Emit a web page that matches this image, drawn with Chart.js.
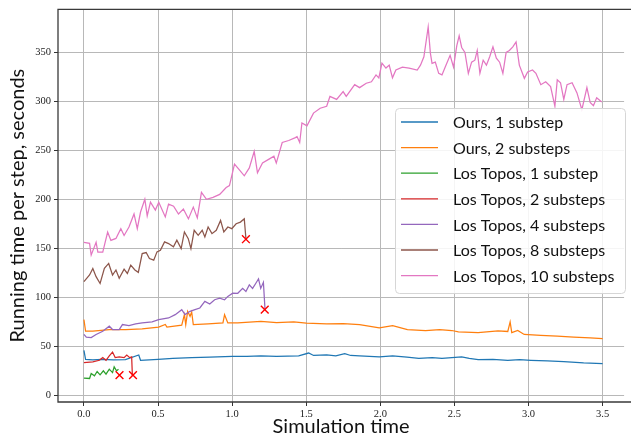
<!DOCTYPE html>
<html>
<head>
<meta charset="utf-8">
<script src="https://cdn.jsdelivr.net/npm/chart.js@4.4.1/dist/chart.umd.min.js"></script>
<style>
  html, body { margin: 0; padding: 0; background: #fff; overflow: hidden; }
</style>
</head>
<body>
<canvas id="chart" width="631" height="438"></canvas>
<script>
// series names and colours (matplotlib tab10)
const seriesNames = ['Ours, 1 substep', 'Ours, 2 substeps', 'Los Topos, 1 substep', 'Los Topos, 2 substeps',
                     'Los Topos, 4 substeps', 'Los Topos, 8 substeps', 'Los Topos, 10 substeps'];
const seriesColors = ['#1f77b4', '#ff7f0e', '#2ca02c', '#d62728', '#9467bd', '#8c564b', '#e377c2'];

const xTicks = [0, 0.5, 1, 1.5, 2, 2.5, 3, 3.5];
const yTicks = [0, 50, 100, 150, 200, 250, 300, 350];

// Ours, 1 substep
const blueT = [0, 0.011, 0.06, 0.12, 0.2, 0.28, 0.37, 0.382, 0.5, 0.6, 0.727, 0.85, 1.0, 1.1, 1.194, 1.3, 1.449, 1.516, 1.55, 1.638,
               1.7, 1.76, 1.8, 1.86, 1.993, 2.083, 2.18, 2.26, 2.35, 2.416, 2.549, 2.6, 2.66, 2.76, 2.86, 2.94, 3.016, 3.127, 3.238, 3.372, 3.5];
const blueY = [45.7, 36.6, 36, 36.5, 36, 36.2, 41, 35.6, 36.6, 37.5, 38.3, 38.8, 39.7, 39.5, 40, 39.6, 40, 43, 40.5, 41,
               40, 42.3, 40.5, 40, 39, 40, 38.8, 37.6, 38.3, 37.6, 39, 37.5, 36.3, 36.6, 35.6, 36.2, 35.6, 35, 34.3, 33, 32.3];

// Ours, 2 substeps
const orangeT = [0, 0.011, 0.06, 0.171, 0.282, 0.393, 0.504, 0.549, 0.56, 0.66, 0.678, 0.687, 0.7, 0.716, 0.727, 0.738, 0.838, 0.938, 0.949, 0.971,
                 1.038, 1.194, 1.3, 1.416, 1.5, 1.638, 1.75, 1.86, 1.993, 2.083, 2.183, 2.305, 2.4, 2.483, 2.527, 2.66, 2.794, 2.86, 2.876, 2.887,
                 2.927, 2.971, 3.083, 3.194, 3.305, 3.416, 3.5];
const orangeY = [77.1, 65.3, 65.3, 67, 67, 67.7, 69.4, 72.1, 69.4, 71.4, 82.2, 72, 85.6, 80.5, 84.9, 72, 72.8, 73.8, 82.2, 73.8,
                 73.8, 75.4, 74, 74.8, 73.5, 72.7, 73, 72.1, 68.7, 71, 67, 66, 67, 66, 64.6, 63.9, 65.6, 65, 74.8, 63.9,
                 66, 62, 61, 60.3, 59.3, 58.6, 57.6];

// Los Topos, 1 substep
const greenT = [0, 0.038, 0.049, 0.071, 0.089, 0.109, 0.131, 0.149, 0.171, 0.193, 0.204, 0.22, 0.233];
const greenY = [17.4, 17, 22, 19.7, 24.1, 20.7, 24.8, 21.4, 26.5, 23, 28.9, 24.8, 26.5];

// Los Topos, 2 substeps
const redT = [0, 0.06, 0.104, 0.127, 0.149, 0.171, 0.193, 0.211, 0.238, 0.271, 0.289, 0.309, 0.322, 0.327];
const redY = [33.2, 33.9, 35.6, 38.3, 35.6, 40, 44, 38.3, 39, 38.3, 41, 38.3, 39, 19.7];

// Los Topos, 4 substeps
const purpleT = [0, 0.016, 0.049, 0.082, 0.127, 0.171, 0.193, 0.238, 0.26, 0.304, 0.349, 0.393, 0.46, 0.504, 0.571, 0.616, 0.66, 0.682, 0.716, 0.749,
                 0.782, 0.816, 0.849, 0.882, 0.916, 0.949, 0.971, 1.004, 1.038, 1.071, 1.093, 1.116, 1.138, 1.16, 1.178, 1.193, 1.211, 1.222];
const purpleY = [62, 59.2, 58.8, 62, 65.3, 70.4, 67, 67, 72.1, 71, 72.8, 73.8, 74.8, 77.1, 78.8, 82.2, 87.3, 82.2, 85.6, 87.3,
                 89, 95.7, 93, 97.4, 99, 97.4, 100.8, 104.1, 104, 109, 105.8, 112.6, 109, 114.3, 118.7, 109, 115.2, 87.3];

// Los Topos, 8 substeps
const brownT = [0, 0.038, 0.06, 0.082, 0.109, 0.138, 0.167, 0.193, 0.216, 0.238, 0.271, 0.293, 0.316, 0.344, 0.367, 0.393, 0.42, 0.442, 0.471, 0.493,
                0.516, 0.544, 0.571, 0.604, 0.627, 0.656, 0.678, 0.704, 0.722, 0.744, 0.771, 0.798, 0.816, 0.838, 0.864, 0.893, 0.922, 0.944, 0.971, 0.998,
                1.027, 1.056, 1.082, 1.093];
const brownY = [116, 122.7, 129.4, 121, 114, 129.4, 134.5, 122.7, 127.8, 119.3, 128.7, 124.3, 132.7, 127.8, 125.4, 144.6, 145.6, 139.5, 137.8, 146.3,
                148, 156.5, 154.8, 151.4, 158.2, 149.7, 166.6, 159.8, 149.7, 168.3, 163.2, 168.3, 161.5, 171.7, 164.9, 168.3, 178.4, 166.6, 171.7, 170,
                175, 176.7, 180, 160];

// Los Topos, 10 substeps
const pinkT = [0, 0.038, 0.049, 0.082, 0.094, 0.127, 0.16, 0.182, 0.216, 0.249, 0.271, 0.304, 0.338, 0.36, 0.382, 0.411, 0.427, 0.449, 0.482, 0.505,
               0.549, 0.571, 0.605, 0.638, 0.671, 0.705, 0.738, 0.765, 0.793, 0.827, 0.871, 0.916, 0.96, 0.982, 1.016, 1.049, 1.082, 1.116, 1.149, 1.171,
               1.205, 1.249, 1.282, 1.298, 1.338, 1.382, 1.427, 1.438, 1.456, 1.471, 1.505, 1.549, 1.594, 1.638, 1.66, 1.705, 1.749, 1.77, 1.827, 1.86,
               1.905, 1.94, 1.971, 1.99, 2.011, 2.038, 2.06, 2.082, 2.105, 2.149, 2.194, 2.249, 2.271, 2.294, 2.323, 2.338, 2.349, 2.371, 2.394, 2.416,
               2.438, 2.471, 2.494, 2.516, 2.532, 2.549, 2.571, 2.594, 2.616, 2.638, 2.654, 2.672, 2.694, 2.716, 2.738, 2.76, 2.783, 2.805, 2.827, 2.849,
               2.871, 2.894, 2.916, 2.938, 2.972, 2.994, 3.027, 3.05, 3.083, 3.116, 3.149, 3.178, 3.194, 3.216, 3.238, 3.26, 3.294, 3.327, 3.36, 3.394,
               3.416, 3.438, 3.46, 3.494];
const pinkY = [156, 155, 143, 156, 146, 146, 166.6, 158, 160, 170, 163, 171.6, 185, 170, 187, 200, 183, 197, 189, 197,
               182, 195, 193, 185, 190, 180, 192, 181, 207, 200, 202, 205, 212, 214, 236, 230, 224, 232, 249, 227,
               237, 241, 244, 237, 258, 260, 263, 264, 258, 278, 275, 288, 293, 295, 305, 302, 310, 305, 317, 314,
               318.5, 320, 327, 324, 339, 334, 337, 324, 332, 335, 334, 332, 337, 345.5, 376, 349, 338.8, 340, 328.6, 327,
               335, 347, 335, 357, 367, 355, 350, 328.6, 340, 342, 352, 328.6, 342, 337, 345.5, 355.7, 344, 340, 328.6, 350,
               352, 355.7, 360.7, 337, 323.5, 330, 332, 328.6, 317, 320, 315, 295, 322, 319, 302, 317, 319, 308.6, 291.5, 314,
               299, 295.6, 303.7, 299.4];

// where the Los Topos runs failed (red crosses)
const failT = [0.24, 0.331, 1.093, 1.22];
const failY = [20.4, 20.4, 159.2, 87.3];

const seriesT = [blueT, orangeT, greenT, redT, purpleT, brownT, pinkT];
const seriesY = [blueY, orangeY, greenY, redY, purpleY, brownY, pinkY];

const toPoints = (ts, ys) => ts.map((t, i) => ({ x: t, y: ys[i] }));

const datasets = seriesNames.map((name, i) => ({
    label: name,
    data: toPoints(seriesT[i], seriesY[i]),
    borderColor: seriesColors[i],
    borderWidth: 1.25,
    pointRadius: 0,
    tension: 0,
    fill: false,
    order: -i
}));
datasets.push({
    type: 'scatter',
    label: 'failed',
    data: toPoints(failT, failY),
    pointStyle: 'crossRot',
    pointRadius: 5.5,
    pointBorderColor: '#ff0000',
    pointBorderWidth: 1.4,
    showLine: false,
    order: -100
});

// axes frame (left, top, bottom spines)
const frame = {
    id: 'frame',
    afterDraw(chart) {
        const { ctx, chartArea: a } = chart;
        ctx.save();
        ctx.strokeStyle = '#3a3a3a';
        ctx.lineWidth = 1.3;
        ctx.beginPath();
        ctx.moveTo(chart.width + 2, a.top);
        ctx.lineTo(a.left, a.top);
        ctx.lineTo(a.left, a.bottom);
        ctx.lineTo(chart.width + 2, a.bottom);
        ctx.stroke();
        ctx.restore();
    }
};

// legend box in the right part of the plot
const legendBox = {
    id: 'legendBox',
    afterDatasetsDraw(chart) {
        const c = chart.ctx;
        const x0 = 395, y0 = 108, w = 230, h = 185, rowH = 25.6;
        c.save();
        c.fillStyle = 'rgba(255,255,255,0.85)';
        c.strokeStyle = '#d6d6d6';
        c.lineWidth = 1;
        c.beginPath();
        c.roundRect(x0 + 0.5, y0 + 0.5, w, h, 4);
        c.fill();
        c.stroke();
        c.font = '16px Lato';
        c.textBaseline = 'middle';
        seriesNames.forEach((name, i) => {
            const y = y0 + 14 + i * rowH;
            c.strokeStyle = seriesColors[i];
            c.lineWidth = 1.3;
            c.beginPath();
            c.moveTo(x0 + 6, y);
            c.lineTo(x0 + 43, y);
            c.stroke();
            c.fillStyle = '#111';
            c.fillText(name, x0 + 58, y + 1);
        });
        c.restore();
    }
};

const tickFont = { family: 'Liberation Serif', size: 10.5 };
const gridOpts = { color: '#b8b8b8', lineWidth: 1, tickColor: '#333', tickLength: 4 };

new Chart(document.getElementById('chart').getContext('2d'), {
    type: 'line',
    data: { datasets },
    options: {
        responsive: false,
        animation: false,
        layout: { padding: { left: 0, right: 0, top: 6, bottom: 0 } },
        plugins: { legend: { display: false }, tooltip: { enabled: false } },
        scales: {
            x: {
                type: 'linear',
                min: -0.175,
                max: 3.645,
                afterFit: s => { s.height = 36; },
                afterBuildTicks: s => { s.ticks = xTicks.map(v => ({ value: v })); },
                ticks: { font: tickFont, color: '#222', padding: 2, maxRotation: 0, autoSkip: false,
                         callback: v => v.toFixed(1) },
                grid: gridOpts,
                border: { display: false },
                title: { display: true, text: 'Simulation time', color: '#111',
                         font: { family: 'Lato', size: 20, lineHeight: 1.1 }, padding: 0 }
            },
            y: {
                type: 'linear',
                min: -7,
                max: 394,
                afterFit: s => { s.width = 58; },
                afterBuildTicks: s => { s.ticks = yTicks.map(v => ({ value: v })); },
                ticks: { font: tickFont, color: '#222', padding: 3 },
                grid: gridOpts,
                border: { display: false },
                title: { display: true, text: 'Running time per step, seconds', color: '#111',
                         font: { family: 'Lato', size: 20, lineHeight: 1.1 }, padding: { top: 7, bottom: 0 } }
            }
        }
    },
    plugins: [frame, legendBox]
});
</script>
</body>
</html>
